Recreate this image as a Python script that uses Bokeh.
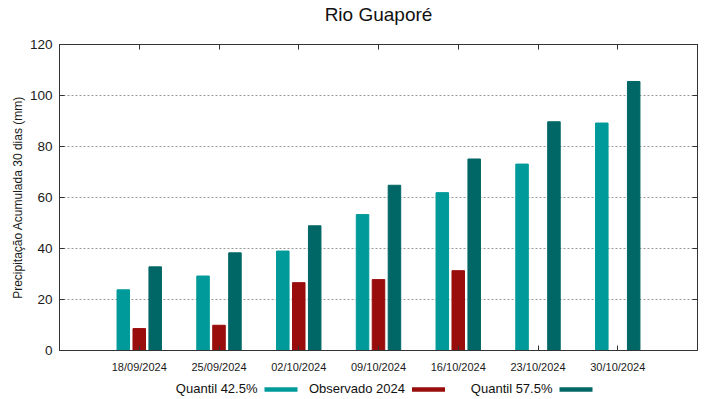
from bokeh.plotting import figure
from bokeh.layouts import column
from bokeh.models import Range1d, FixedTicker, LinearAxis, ColumnDataSource
from bokeh.core.properties import value
from bokeh.transform import dodge
from bokeh.embed import file_html
from bokeh.resources import INLINE

dates = ["18/09/2024", "25/09/2024", "02/10/2024", "09/10/2024",
         "16/10/2024", "23/10/2024", "30/10/2024"]
q425 = [23.8, 29.2, 39.0, 53.3, 61.9, 73.1, 89.2]
obs2024 = [8.6, 9.9, 26.6, 27.8, 31.3, float("nan"), float("nan")]
q575 = [32.8, 38.3, 48.9, 64.8, 75.1, 89.7, 105.5]
yticks = [0, 20, 40, 60, 80, 100, 120]
series_names = ["Quantil 42.5%", "Observado 2024", "Quantil 57.5%"]

C_Q425 = "#009a9a"
C_OBS = "#990d0d"
C_Q575 = "#006766"
colors = [C_Q425, C_OBS, C_Q575]
FONT = "Liberation Sans"
INK = "#1a1a1a"

W = 719
BORDER_L, BORDER_R = 59, 22
FRAME_W = W - BORDER_L - BORDER_R

idx = list(range(len(dates)))
src = ColumnDataSource(dict(idx=idx, q425=q425, obs=obs2024, q575=q575))

p = figure(width=W, height=378, output_backend="svg", toolbar_location=None,
           title=None,
           x_range=Range1d(-1, len(dates)), y_range=Range1d(0, 120),
           min_border_left=BORDER_L, min_border_right=BORDER_R, min_border_top=44,
           min_border_bottom=28)

p.xgrid.visible = False
p.ygrid.ticker = FixedTicker(ticks=yticks[1:-1])
p.ygrid.grid_line_color = "#999999"
p.ygrid.grid_line_dash = "2 2"
p.ygrid.grid_line_width = 1
p.outline_line_color = "#333333"
p.outline_line_width = 1

bw = 0.157
p.vbar(x=dodge("idx", -0.2, range=p.x_range), top="q425", width=bw, source=src,
       fill_color=C_Q425, line_color=C_Q425)
p.vbar(x=dodge("idx", 0.0, range=p.x_range), top="obs", width=bw, source=src,
       fill_color=C_OBS, line_color=C_OBS)
p.vbar(x=dodge("idx", 0.2, range=p.x_range), top="q575", width=bw, source=src,
       fill_color=C_Q575, line_color=C_Q575)

def style_axis(ax, labels=True):
    ax.major_tick_in = 5
    ax.major_tick_out = 0
    ax.minor_tick_in = 0
    ax.minor_tick_out = 0
    ax.axis_line_color = "#333333"
    ax.major_tick_line_color = "#333333"
    if not labels:
        ax.major_label_text_font_size = "1px"
        ax.major_label_text_color = None
        ax.major_label_standoff = 0

xa = p.xaxis[0]
xa.ticker = FixedTicker(ticks=idx)
xa.major_label_overrides = {i: d for i, d in zip(idx, dates)}
xa.major_label_text_font = FONT
xa.major_label_text_font_size = "11px"
xa.major_label_text_color = INK
xa.major_label_standoff = 10
style_axis(xa)

ya = p.yaxis[0]
ya.ticker = FixedTicker(ticks=yticks)
ya.major_label_text_font = FONT
ya.major_label_text_font_size = "13.5px"
ya.major_label_text_color = INK
ya.major_label_standoff = 7
ya.axis_label = "Precipitação Acumulada 30 dias (mm)"
ya.axis_label_text_font = FONT
ya.axis_label_text_font_size = "12px"
ya.axis_label_text_font_style = "normal"
ya.axis_label_text_color = INK
ya.axis_label_standoff = 2
style_axis(ya)

# mirrored axis on top, carrying the chart title
top = LinearAxis(ticker=FixedTicker(ticks=idx))
style_axis(top, labels=False)
top.axis_label = "Rio Guaporé"
top.axis_label_text_font = FONT
top.axis_label_text_font_size = "19px"
top.axis_label_text_font_style = "normal"
top.axis_label_text_color = "#111111"
top.axis_label_standoff = 20
p.add_layout(top, "above")

right = LinearAxis(ticker=FixedTicker(ticks=yticks))
style_axis(right, labels=False)
p.add_layout(right, "right")

# gnuplot-style key under the chart: text right-aligned before its sample
# (the key's frame is aligned with the chart's frame; x in page pixels)
LEG_H = 21
LEG_X0, LEG_STEP, SAMPLE_W, SAMPLE_H, GAP = 264, 147.5, 33, 4.6, 7
leg = figure(frame_width=FRAME_W, frame_height=LEG_H, output_backend="svg",
             toolbar_location=None, title=None,
             x_range=Range1d(BORDER_L, W - BORDER_R), y_range=Range1d(0, LEG_H),
             x_axis_type=None, y_axis_type=None,
             min_border_left=0, min_border_right=0,
             min_border_top=0, min_border_bottom=0,
             outline_line_color=None)
leg.grid.visible = False
lefts = [LEG_X0 + i * LEG_STEP for i in range(len(series_names))]
leg.quad(left=lefts, right=[l + SAMPLE_W for l in lefts],
         bottom=10 - SAMPLE_H / 2, top=10 + SAMPLE_H / 2,
         fill_color=colors, line_color=None)
leg.text(x=[l - GAP for l in lefts], y=11, text=series_names,
         text_align="right", text_baseline="middle",
         text_font=value(FONT), text_font_size="13px", text_color="#111111")

layout = column(p, leg, spacing=0)
open("out.html", "w").write(file_html(layout, INLINE))
